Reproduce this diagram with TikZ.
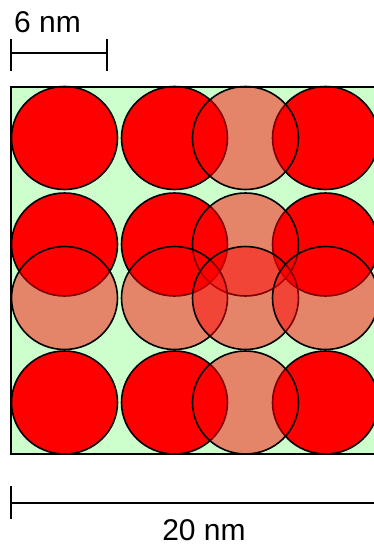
\documentclass[tikz,border=0pt]{standalone}
\usepackage{fontspec}
\setmainfont{Liberation Sans}
\definecolor{solvent}{HTML}{CCFFCC}

\begin{document}
\begin{tikzpicture}[x=1pt, y=-1pt,
    particle/.style={draw=black, line width=1.6pt, fill=red},
    ghost/.style={particle, fill opacity=0.48},
    bar/.style={line width=1.8pt},
    label/.style={font=\fontsize{30}{36}\selectfont, inner sep=0pt}
]
\useasboundingbox (0,0) rectangle (374,546);

%% BOX
\coordinate (box_nw) at (11,87);
\coordinate (box_se) at (378,454);
\fill[solvent] (box_nw) rectangle (box_se);

%% PARTICLES (rows 1, 2, 4)
\foreach \y in {138, 244.5, 402.5} {
    \foreach \x in {64.5, 174.5, 325.5}
        \draw[particle] (\x,\y) ellipse [x radius=53, y radius=51.5];
    \draw[ghost] (245.5,\y) ellipse [x radius=53, y radius=51.5];
}

%% PARTICLES (row 3)
\foreach \x in {64.5, 174.5, 245.5, 325.5}
    \draw[ghost] (\x,298) ellipse [x radius=53, y radius=51.5];

\draw[line width=2pt] (box_nw) rectangle (box_se);

%% SCALE BARS
\coordinate (small_a) at (11,53);
\coordinate (small_b) at (107,53);
\draw[bar] (small_a) -- (small_b);
\draw[bar] ([yshift=14pt]small_a) -- ([yshift=-18pt]small_a);
\draw[bar] ([yshift=14pt]small_b) -- ([yshift=-18pt]small_b);
\node[label, anchor=base west] (small_lbl) at (14,32) {6 nm};

\coordinate (large_a) at (11,503);
\coordinate (large_b) at (380,503);
\draw[bar] (large_a) -- (large_b);
\draw[bar] ([yshift=17pt]large_a) -- ([yshift=-16pt]large_a);
\node[label, anchor=base] (large_lbl) at (204,540.5) {20 nm};

\end{tikzpicture}
\end{document}
